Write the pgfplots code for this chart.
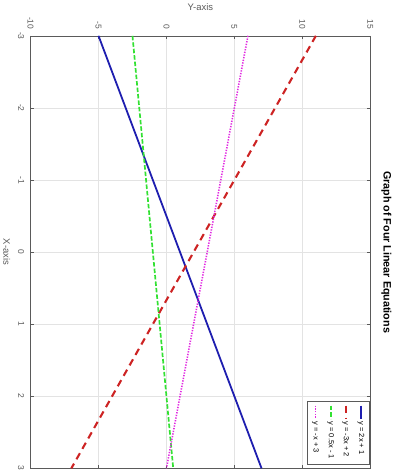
\documentclass[border=0pt]{standalone}
\usepackage{fontspec}
\setmainfont{Liberation Sans}
\usepackage{pgfplots}
\pgfplotsset{compat=1.18}
\definecolor{lblue}{RGB}{30,30,175}
\definecolor{lred}{RGB}{205,35,35}
\definecolor{lgreen}{RGB}{50,225,50}
\definecolor{lmag}{RGB}{225,40,225}
\definecolor{lgray}{RGB}{90,90,90}
\begin{document}
\begin{tikzpicture}[rotate=-90,transform shape]
\begin{axis}[
  width=433bp, height=340bp, scale only axis,
  xmin=-3, xmax=3, ymin=-10, ymax=15,
  xtick={-3,-2,-1,0,1,2,3}, ytick={-10,-5,0,5,10,15},
  grid=major, grid style={gray!22},
  tick align=inside, major tick length=3bp,
  tick style={lgray},
  axis line style={lgray},
  ticklabel style={font=\fontsize{8.5}{9}\selectfont, text=lgray},
  xticklabel style={yshift=-3bp},
  yticklabel style={xshift=-3bp},
  /pgf/number format/assume math mode=true,
  xlabel={X-axis}, ylabel={Y-axis},
  xlabel style={font=\fontsize{9.5}{10}\selectfont, text=lgray, yshift=-1bp},
  ylabel style={font=\fontsize{9.5}{10}\selectfont, text=lgray, yshift=0bp},
  title={Graph of Four Linear Equations},
  title style={font=\bfseries\fontsize{10.8}{12}\selectfont, yshift=3bp, inner ysep=2bp},
  legend style={at={(0.99,0.998)}, anchor=north east,
    font=\fontsize{7.5}{8.5}\selectfont, draw=lgray, inner sep=3pt,
    row sep=4.5pt},
  legend cell align=left,
  legend image code/.code={\draw[#1] (0bp,0bp) -- (13bp,0bp);},
]
\addplot[lblue, solid, line width=1.8pt] coordinates {(-3,-5) (3,7)};
\addlegendentry{y = 2x + 1}
\addplot[lred, line width=2.1pt, dash pattern=on 7bp off 5bp] coordinates {(-3,11) (3,-7)};
\addlegendentry{y = -3x + 2}
\addplot[lgreen, line width=1.7pt, dash pattern=on 4.5bp off 2bp] coordinates {(-3,-2.5) (3,0.5)};
\addlegendentry{y = 0.5x - 1}
\addplot[lmag, line width=1.6pt, dash pattern=on 1.3bp off 1.4bp] coordinates {(-3,6) (3,0)};
\addlegendentry{y = -x + 3}
\end{axis}
\end{tikzpicture}
\end{document}
